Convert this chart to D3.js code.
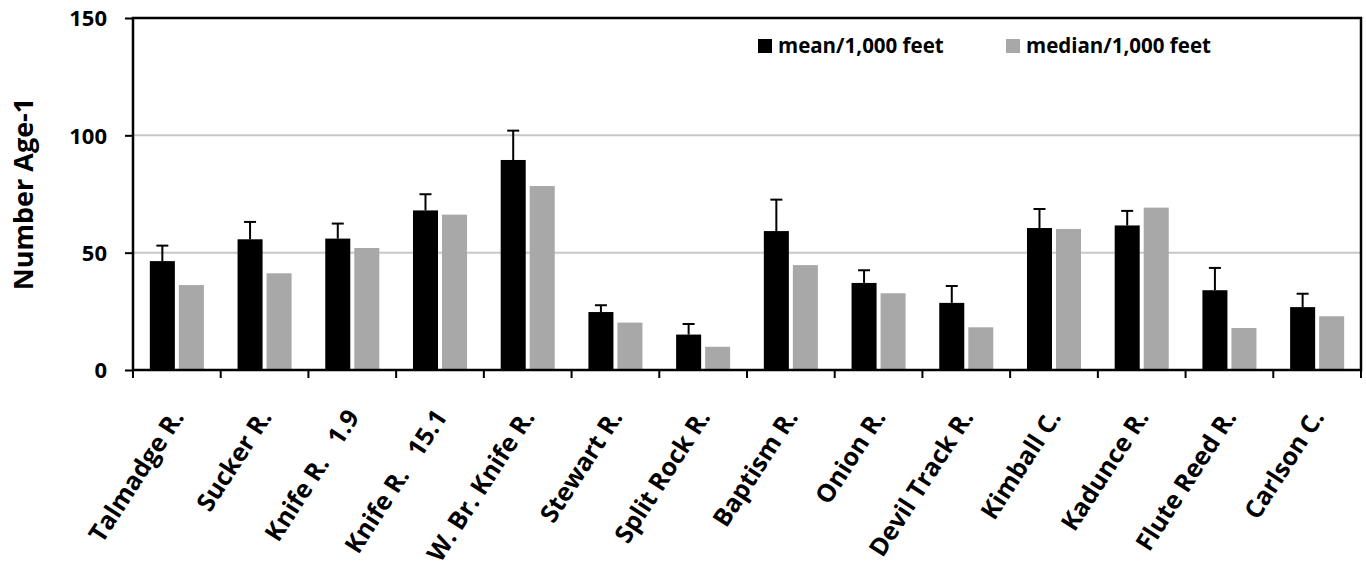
<!DOCTYPE html>
<html>
<head>
<meta charset="utf-8">
<script src="https://cdn.jsdelivr.net/npm/d3@7"></script>
<style>
  html, body { margin: 0; padding: 0; background: #fff; }
  svg { display: block; }
  text { font-family: "Open Sans", Lato, sans-serif; font-weight: 700; fill: #000; }
</style>
</head>
<body>
<svg id="chart" width="1366" height="576"></svg>
<script>
const categories = ["Talmadge R.", "Sucker R.", "Knife R.   1.9", "Knife R.   15.1", "W. Br. Knife R.",
  "Stewart R.", "Split Rock R.", "Baptism R.", "Onion R.", "Devil Track R.", "Kimball C.",
  "Kadunce R.", "Flute Reed R.", "Carlson C."];
const meanValues =   [46.4, 55.7, 56.0, 68.0, 89.5, 24.7, 15.1, 59.2, 37.1, 28.6, 60.5, 61.6, 34.0, 26.8];
const meanErrTop =   [53.0, 63.1, 62.4, 74.9, 102.0, 27.6, 19.6, 72.6, 42.5, 35.8, 68.6, 67.8, 43.5, 32.5];
const medianValues = [36.2, 41.2, 52.0, 66.2, 78.4, 20.2, 9.9, 44.7, 32.7, 18.2, 60.1, 69.2, 17.9, 22.9];
const seriesNames = ["mean/1,000 feet", "median/1,000 feet"];
const yTicks = [0, 50, 100, 150];
const yTitle = "Number Age-1";

const colors = { mean: "#000000", median: "#a8a8a8" };

const svg = d3.select("#chart");
const pLeft = 133, pRight = 1361, pTop = 18, pBottom = 370;

const x = d3.scaleBand().domain(categories).range([pLeft, pRight]).padding(0);
const x1 = d3.scaleBand().domain(["mean", "median"]).range([0, x.bandwidth()])
  .paddingInner(0.138).paddingOuter(0.58);
const y = d3.scaleLinear().domain([0, 150]).range([pBottom, pTop]);

// gridlines
svg.append("g").selectAll("line").data(yTicks.filter(d => d > 0 && d < 150)).join("line")
  .attr("x1", pLeft).attr("x2", pRight)
  .attr("y1", d => y(d)).attr("y2", d => y(d))
  .attr("stroke", "#c8c8c8").attr("stroke-width", 2);

const rows = categories.map((c, i) => ({ c, mean: meanValues[i], median: medianValues[i], err: meanErrTop[i] }));

// error bars
const eb = svg.append("g");
rows.forEach(r => {
  const cx = x(r.c) + x1("mean") + x1.bandwidth() / 2;
  eb.append("line").attr("x1", cx).attr("x2", cx).attr("y1", y(r.mean)).attr("y2", y(r.err))
    .attr("stroke", "#000").attr("stroke-width", 2);
  eb.append("line").attr("x1", cx - 6).attr("x2", cx + 6).attr("y1", y(r.err)).attr("y2", y(r.err))
    .attr("stroke", "#000").attr("stroke-width", 2);
});

const bars = svg.append("g");
bars.selectAll("rect.mean").data(rows).join("rect").attr("class", "mean")
  .attr("x", d => x(d.c) + x1("mean")).attr("width", x1.bandwidth())
  .attr("y", d => y(d.mean)).attr("height", d => y(0) - y(d.mean))
  .attr("fill", colors.mean);
bars.selectAll("rect.median").data(rows).join("rect").attr("class", "median")
  .attr("x", d => x(d.c) + x1("median")).attr("width", x1.bandwidth())
  .attr("y", d => y(d.median)).attr("height", d => y(0) - y(d.median))
  .attr("fill", colors.median);

// frame
svg.append("rect").attr("x", pLeft).attr("y", pTop).attr("width", pRight - pLeft).attr("height", pBottom - pTop)
  .attr("fill", "none").attr("stroke", "#000").attr("stroke-width", 2.5);

// y axis
const yAxis = svg.append("g").attr("transform", `translate(${pLeft},0)`)
  .call(d3.axisLeft(y).tickValues(yTicks).tickSize(8).tickPadding(18));
yAxis.select(".domain").remove();
yAxis.selectAll(".tick line").attr("stroke", "#000").attr("stroke-width", 2);
yAxis.selectAll(".tick text").attr("font-size", 22).attr("font-family", "Open Sans").attr("font-weight", 700)
  .attr("dy", "0.36em");

// x axis ticks at band boundaries
const xb = categories.map(c => x(c)).concat([pRight]);
svg.append("g").selectAll("line").data(xb).join("line")
  .attr("x1", d => d).attr("x2", d => d).attr("y1", pBottom).attr("y2", pBottom + 8)
  .attr("stroke", "#000").attr("stroke-width", 2);

// x labels
svg.append("g").selectAll("text").data(categories).join("text")
  .attr("transform", d => `translate(${x(d) + x.bandwidth() / 2 + 8},${pBottom + 47}) rotate(-57)`)
  .attr("text-anchor", "end")
  .attr("font-size", 25)
  .style("white-space", "pre")
  .text(d => d);

// y title
svg.append("text")
  .attr("transform", `translate(33,${(pTop + pBottom) / 2}) rotate(-90)`)
  .attr("text-anchor", "middle").attr("font-size", 27)
  .text(yTitle);

// legend
const legend = svg.append("g");
const legX = [758, 1006];
seriesNames.forEach((n, i) => {
  legend.append("rect").attr("x", legX[i]).attr("y", 39).attr("width", 14).attr("height", 14)
    .attr("fill", i === 0 ? colors.mean : colors.median);
  legend.append("text").attr("x", legX[i] + 20).attr("y", 53).attr("font-size", 20.5).text(n);
});
</script>
</body>
</html>
